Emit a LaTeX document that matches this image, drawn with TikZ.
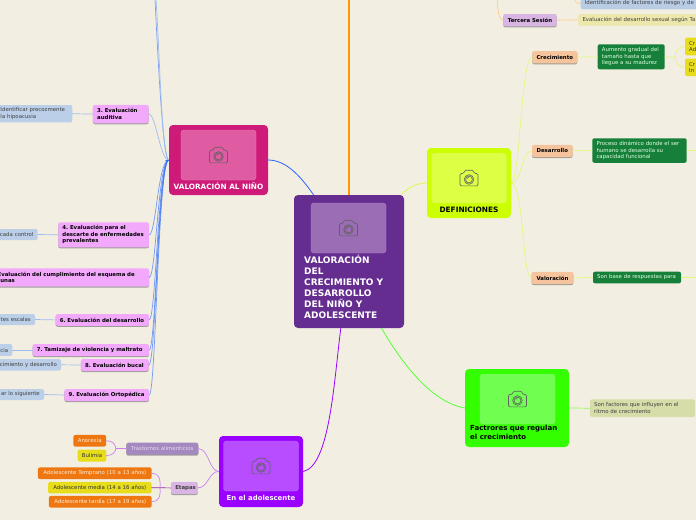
\documentclass[tikz,border=0pt]{standalone}
\usepackage{fontspec}
\setmainfont{DejaVu Sans}
\usetikzlibrary{shadows}
\definecolor{fondo}{HTML}{F2EFE2}
\definecolor{azulrama}{HTML}{2F6BFF}
\definecolor{azulclaro}{HTML}{9DBDF2}
\definecolor{lima}{HTML}{E3F77A}
\definecolor{naranja}{HTML}{FFCB87}
\definecolor{lila}{HTML}{C97FF0}
\definecolor{verde}{HTML}{16803A}
\definecolor{rosa}{HTML}{F2A9FB}
\definecolor{celeste}{HTML}{BBCFE8}
\definecolor{durazno}{HTML}{F6C49C}
\definecolor{malva}{HTML}{D8B5E3}
\definecolor{naranjo}{HTML}{EE7711}
\definecolor{amarillo}{HTML}{E8DD1C}
\definecolor{morado}{HTML}{662D91}
\definecolor{moradoimg}{HTML}{9B6DB5}
\definecolor{moradolin}{HTML}{A986C2}
\definecolor{fucsia}{HTML}{CE1A78}
\definecolor{fucsiaimg}{HTML}{DF5CA2}
\definecolor{fucsialin}{HTML}{E880B7}
\definecolor{limon}{HTML}{CCFF00}
\definecolor{limonimg}{HTML}{DDFF44}
\definecolor{limonlin}{HTML}{D6F550}
\definecolor{verdon}{HTML}{33FF00}
\definecolor{verdonimg}{HTML}{70FF50}
\definecolor{verdonlin}{HTML}{80FA64}
\definecolor{violeta}{HTML}{9900FF}
\definecolor{violetaimg}{HTML}{B84DFF}
\definecolor{violetalin}{HTML}{C26EFA}
\definecolor{lavanda}{HTML}{A488C0}
\definecolor{crema}{HTML}{ECE7AA}
\definecolor{azulgris}{HTML}{B8CCE4}
\definecolor{oliva}{HTML}{D6DDA8}
\definecolor{anaranjado}{HTML}{FF9900}
\definecolor{azulfuerte}{HTML}{2962FF}
\definecolor{limalinea}{HTML}{DDF750}
\definecolor{verdelinea}{HTML}{55FF33}
\tikzset{
	tam/.style 2 args={text width=#1pt-8.4pt, minimum height=#2pt},
	caja/.style={rounded corners=2pt, inner ysep=0pt, inner xsep=4.2pt, align=left, font=\fontsize{5.4}{6.5}\selectfont\frenchspacing, text=black!75},
	sombra/.style={drop shadow={shadow xshift=0pt, shadow yshift=-1pt, fill=black!60, opacity=.6}},
	rosada/.style={caja, fill=rosa, sombra, text=black, font=\fontsize{5.4}{6.5}\selectfont\bfseries\frenchspacing},
	azul/.style={caja, fill=celeste},
	durz/.style={caja, fill=durazno, sombra, text=black, font=\fontsize{5.4}{6.5}\selectfont\bfseries},
	verd/.style={caja, fill=verde, text=white!88!green},
	amar/.style={caja, fill=amarillo, text=black!80},
	nara/.style={caja, fill=naranjo, text=white!85!orange},
	bloque/.style={rounded corners=4pt, inner sep=0pt},
	imagen/.style={rounded corners=3pt, inner sep=0pt, minimum width=75pt, minimum height=50pt},
	titulo/.style={inner sep=0pt, align=left, font=\fontsize{7}{9}\selectfont\bfseries},
	camara/.pic={
		\draw[black!62, line width=.6pt, rounded corners=1.2pt] (-9,-4.5) -- (-5.5,-4.5) -- (-4,-7.8) -- (4,-7.8) -- (5.5,-4.5) -- (9,-4.5) -- (9,7.8) -- (-9,7.8) -- cycle;
		\draw[black!62, line width=.6pt] (0,1.5) circle [radius=4.8pt] (0,1.5) circle [radius=3.4pt];
		\draw[black!62, line width=.5pt] (-1.8,.5) -- (-.3,-1);
	},
	rama/.style={line width=.7pt, line cap=round},
}
\begin{document}
\begin{tikzpicture}[x=1pt, y=-1pt, line join=round]
\useasboundingbox (0,0) rectangle (696,520);
\clip (0,0) rectangle (696,520);
\fill[fondo] (0,0) rectangle (696,520);

% bloques principales
\node[bloque, fill=morado, minimum width=110pt, minimum height=133pt] (central) at (349,261.5) {};
\node[imagen, fill=moradoimg, draw=moradolin] (centralimg) at (348.5,228) {};
\pic at (348.5,228) {camara};
\node[titulo, anchor=north west, text=white, font=\fontsize{9}{11}\selectfont\bfseries] (centraltxt) at (304,255) {VALORACIÓN\\DEL\\CRECIMIENTO Y\\DESARROLLO\\DEL NIÑO Y\\ADOLESCENTE};

\node[bloque, fill=fucsia, minimum width=99pt, minimum height=70pt] (nino) at (218.5,160) {};
\node[imagen, fill=fucsiaimg, draw=fucsialin] (ninoimg) at (218.5,155) {};
\pic at (218.5,155) {camara};
\node[titulo, text=white, font=\fontsize{7.3}{9}\selectfont\bfseries] (ninotxt) at (218.5,186.5) {VALORACIÓN AL NIÑO};

\node[bloque, fill=limon, minimum width=84pt, minimum height=70pt] (defin) at (469,183) {};
\node[imagen, fill=limonimg, draw=limonlin] (definimg) at (469,178) {};
\pic at (469,178) {camara};
\node[titulo, text=black, font=\fontsize{7.4}{9}\selectfont\bfseries] (defintxt) at (469,209.5) {DEFINICIONES};

\node[bloque, fill=verdon, minimum width=104pt, minimum height=78pt] (factor) at (517,408) {};
\node[imagen, fill=verdonimg, draw=verdonlin] (factorimg) at (517.5,399) {};
\pic at (517.5,399) {camara};
\node[titulo, anchor=north west, text=black] (factortxt) at (470,425) {Factrores que regulan\\el crecimiento};

\node[bloque, fill=violeta, minimum width=84pt, minimum height=71pt] (adol) at (261,471.5) {};
\node[imagen, fill=violetaimg, draw=violetalin] (adolimg) at (261,466) {};
\pic at (261,466) {camara};
\node[titulo, text=white, font=\fontsize{6.9}{9}\selectfont\bfseries] (adoltxt) at (261,497.5) {En el adolescente};

% valoracion al nino
\node[rosada, tam={55.7}{18.3}] (n3) at (120.8,114.1) {3. Evaluación\\auditiva};
\node[azul, tam={76}{17.3}] (b3) at (34.3,113.7) {Identificar precozmente\\la hipoacusia};
\node[rosada, tam={90.7}{25}] (n4) at (103.6,234.8) {4. Evaluación para el\\descarte de enfermedades\\prevalentes};
\node[azul, tam={48}{11}, align=right] (b4) at (13.7,234.5) {cada control};
\node[rosada, tam={163.2}{18.4}] (n5) at (67.4,277.5) {5. Evaluación del cumplimiento del esquema de\\vacunas};
\node[rosada, tam={93.3}{11.7}] (n6) at (102.3,319.9) {6. Evaluación del desarrollo};
\node[azul, tam={50}{11}, align=right] (b6) at (10,319.5) {tes escalas};
\node[rosada, tam={116.3}{12}] (n7) at (90.8,350) {7. Tamizaje de violencia y maltrato};
\node[azul, tam={30}{12}, align=right] (b7) at (-2.7,350) {cia};
\node[rosada, tam={67.7}{12}] (n8) at (114.8,365) {8. Evaluación bucal};
\node[azul, tam={80}{11.5}, align=right] (b8) at (21,364.8) {cimiento y desarrollo};
\node[rosada, tam={84.5}{12}] (n9) at (106.7,395) {9. Evaluación Ortopédica};
\node[azul, tam={60}{11}, align=right] (b9) at (14,394.5) {ar lo siguiente};

\coordinate (arriba1) at (155,-1);
\coordinate (arriba2) at (156,-1);
\foreach \n/\y in {n4/235,n5/277.5,n6/320,n7/350,n8/365,n9/395}
	\draw[rama, azulrama, opacity=.65] (nino.west) .. controls (158,160) and (156,\y) .. (\n.east);
\draw[rama, azulclaro] (nino.west) .. controls (160,160) and (156,114) .. (n3.east);
\draw[rama, azulrama, opacity=.6] (nino.west) .. controls (163,160) and (158,60) .. (arriba1);
\draw[rama, azulclaro] (nino.west) .. controls (162,160) and (160,60) .. (arriba2);
\draw[rama, azulrama] (nino.west) -- +(-3,0);
\foreach \a/\b in {n3/b3,n4/b4,n6/b6,n7/b7,n8/b8,n9/b9}
	\draw[rama, azulclaro] (\a.west) -- (\b.east);

% en el adolescente
\node[caja, fill=lavanda, sombra, text=white!85!violet, tam={72}{12}, align=center] (trast) at (162.3,448.7) {Trastornos alimenticios};
\node[caja, fill=malva, sombra, text=black!75, font=\fontsize{5.4}{6.5}\selectfont\bfseries, tam={26.7}{12.3}, align=center] (etapas) at (184.4,487.9) {Etapas};
\node[nara, tam={32.7}{11.7}, align=center] (anor) at (89.7,440.8) {Anorexia};
\node[amar, tam={28.6}{12}, align=center] (buli) at (92,455.5) {Bulimia};
\node[nara, tam={113.7}{11.7}, align=center] (tempr) at (94.8,473.2) {Adolescente Temprano (10 a 13 años)};
\node[amar, tam={103.4}{11.5}, align=center] (media) at (99.8,487.7) {Adolescente media (14 a 16 años)};
\node[nara, tam={102.7}{11.7}, align=center] (tardia) at (100.3,501.8) {Adolescente tardía (17 a 19 años)};
\coordinate (cruce1) at (116,448.7);
\coordinate (cruce2) at (160,487.9);
\draw[rama, lila] (adol.west) .. controls (209,471) and (209,449) .. (trast.east);
\draw[rama, lila] (adol.west) .. controls (209,471) and (208,488) .. (etapas.east);
\draw[rama, lila] (trast.west) -- (cruce1);
\draw[rama, lila] (cruce1) .. controls (115,443) and (112,440.8) .. (anor.east);
\draw[rama, lila] (cruce1) .. controls (115,453) and (112,455.5) .. (buli.east);
\draw[rama, violet!70!lila] (etapas.west) -- (media.east);
\draw[rama, lila] (cruce2) .. controls (161,478) and (158,473.2) .. (tempr.east);
\draw[rama, lila] (cruce2) .. controls (161,497) and (158,501.8) .. (tardia.east);

% sesiones
\node[caja, fill=malva, sombra, text=black, font=\fontsize{5.4}{6.5}\selectfont\bfseries, tam={53.4}{12.3}, align=center] (tercera) at (530,20.2) {Tercera Sesión};
\node[caja, fill=crema, tam={130}{11.5}] (evalsex) at (643.3,19.9) {Evaluación del desarrollo sexual según Ta};
\node[caja, fill=azulgris, tam={130}{12}] (identif) at (645.7,3.3) {Identificación de factores de riesgo y de};
\coordinate (arriba3) at (497,-1);
\coordinate (arriba4) at (574,-1);
\draw[rama, naranja] (arriba3) .. controls (498,12) and (499,20) .. (tercera.west);
\draw[rama, naranja] (arriba4) .. controls (576,3) and (578,4) .. (identif.west);
\draw[rama, naranja] (tercera.east) -- (evalsex.west);

% definiciones
\node[durz, tam={45}{12.3}, align=center] (crec) at (554.8,57.2) {Crecimiento};
\node[verd, tam={67}{25}] (crectxt) at (631.2,56.8) {Aumento gradual del\\tamaño hasta que\\llegue a su madurez};
\node[amar, tam={30}{17.6}] (crecad) at (700,46.5) {Cr\\Ad};
\node[amar, tam={30}{17.4}] (crecin) at (700,67.3) {Cr\\In};
\node[durz, tam={40.4}{12.3}, align=center] (desa) at (552.3,150.9) {Desarrollo};
\node[verd, tam={94.4}{24.5}] (desatxt) at (639.5,150.5) {Proceso dinámico donde el ser\\humano se desarrolla su\\capacidad funcional};
\node[durz, tam={41.6}{12.3}, align=center] (valo) at (552.5,277.9) {Valoración};
\node[verd, tam={88}{11.7}] (valotxt) at (637,277.5) {Son base de respuestas para};
\coordinate (cruce3) at (675,57);
\coordinate (salida1) at (697,150.5);
\coordinate (salida2) at (697,277.5);
\draw[rama, lima] (defin.east) .. controls (520,183) and (521,57) .. (crec.west);
\draw[rama, lima] (defin.east) .. controls (522,183) and (521,151) .. (desa.west);
\draw[rama, lima] (defin.east) .. controls (524,183) and (522,278) .. (valo.west);
\draw[rama, lima] (crec.east) -- (crectxt.west);
\draw[rama, lima] (desa.east) -- (desatxt.west);
\draw[rama, lima] (valo.east) -- (valotxt.west);
\draw[rama, lima] (crectxt.east) -- (cruce3);
\draw[rama, lima] (cruce3) .. controls (675,50) and (679,47) .. (crecad.west);
\draw[rama, lima] (cruce3) .. controls (675,63) and (679,67) .. (crecin.west);
\draw[rama, lima] (desatxt.east) -- (salida1);
\draw[rama, lima] (valotxt.east) -- (salida2);

% factores
\node[caja, fill=oliva, tam={105}{17.7}] (factxt) at (642.5,408.2) {Son factores que influyen en el\\ritmo de crecimiento};
\draw[rama, verdelinea!60!lima] (factor.east) -- (factxt.west);

% ramas del centro
\coordinate (arriba5) at (349,-1);
\draw[line width=1.1pt, anaranjado] (central.north) -- (arriba5);
\draw[line width=.8pt, azulfuerte] (central.118) .. controls (303,180) and (288,160) .. (nino.east);
\draw[line width=.8pt, limalinea] (central.52.5) .. controls (408,188) and (416,183) .. (defin.west);
\draw[line width=.8pt, verdelinea] (central.296) .. controls (400,360) and (430,402) .. (factor.west);
\draw[line width=.8pt, violeta] (central.263) .. controls (334,380) and (330,466) .. (adol.east);
\end{tikzpicture}
\end{document}
